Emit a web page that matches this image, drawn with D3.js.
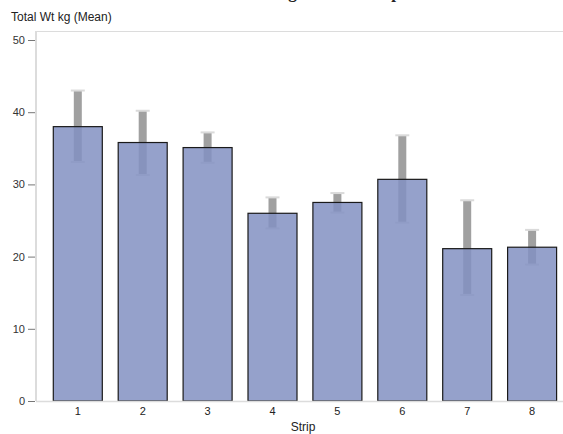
<!DOCTYPE html>
<html>
<head>
<meta charset="utf-8">
<script src="https://cdn.jsdelivr.net/npm/d3@7"></script>
<style>
  html, body { margin: 0; padding: 0; background: #fff; }
  svg { display: block; font-family: "Liberation Sans", Arial, sans-serif; }
</style>
</head>
<body>
<svg id="chart" width="563" height="434"></svg>
<script>
// Mean total weight per strip, with error extents
const strips = ["1", "2", "3", "4", "5", "6", "7", "8"];
const meanWt = [38.0, 35.8, 35.1, 26.0, 27.5, 30.7, 21.1, 21.3];
const errLow = [33.1, 31.3, 33.0, 23.9, 26.1, 24.7, 14.7, 18.9];
const errHigh = [43.0, 40.2, 37.2, 28.2, 28.8, 36.8, 27.8, 23.7];
const yTicks = [0, 10, 20, 30, 40, 50];

const svg = d3.select("#chart");
const plot = { left: 36, right: 563, top: 31, bottom: 401 };

const x = d3.scaleBand()
  .domain(strips)
  .range([45.35, 564.55])
  .paddingInner(0.245)
  .paddingOuter(0.1225);

const y = d3.scaleLinear()
  .domain([0, 50])
  .range([plot.bottom, 40]);

// Title (sits mostly above the top edge)
svg.append("text")
  .attr("x", 283)
  .attr("y", -2)
  .attr("text-anchor", "middle")
  .attr("font-family", "Liberation Serif, Times New Roman, serif")
  .attr("font-weight", "bold")
  .attr("font-size", 17)
  .attr("fill", "#222")
  .text("Mean Total Wt kg for each Strip");

// Top frame line
svg.append("line")
  .attr("x1", plot.left).attr("x2", plot.right)
  .attr("y1", plot.top + 0.5).attr("y2", plot.top + 0.5)
  .attr("stroke", "#dcdcdc").attr("stroke-width", 1);

// Error bars (drawn beneath the translucent bars)
const data = strips.map((s, i) => ({ s, mean: meanWt[i], lo: errLow[i], hi: errHigh[i] }));

const err = svg.append("g").attr("class", "errors");
err.selectAll("rect.stem")
  .data(data).join("rect")
  .attr("class", "stem")
  .attr("x", d => x(d.s) + x.bandwidth() / 2 - 4)
  .attr("width", 8)
  .attr("y", d => y(d.hi))
  .attr("height", d => y(d.lo) - y(d.hi))
  .attr("fill", "#a0a0a0");
["hi", "lo"].forEach(k => {
  err.selectAll("rect.cap-" + k)
    .data(data).join("rect")
    .attr("class", "cap-" + k)
    .attr("x", d => x(d.s) + x.bandwidth() / 2 - 7)
    .attr("width", 14)
    .attr("y", d => y(d[k]) - 1)
    .attr("height", 2)
    .attr("fill", "#dadada");
});

// Bars
svg.append("g").attr("class", "bars")
  .selectAll("rect")
  .data(data).join("rect")
  .attr("x", d => x(d.s))
  .attr("width", x.bandwidth())
  .attr("y", d => y(d.mean))
  .attr("height", d => y(0) - y(d.mean))
  .attr("fill", "rgb(130,144,194)")
  .attr("fill-opacity", 0.85)
  .attr("stroke", "#1a1a1a")
  .attr("stroke-width", 1.2);

// Y axis
const yAxis = svg.append("g")
  .attr("transform", `translate(${plot.left},0)`)
  .call(d3.axisLeft(y).tickValues(yTicks).tickSize(8).tickPadding(3).tickFormat(d3.format("d")));
yAxis.select(".domain")
  .attr("d", `M0,${plot.top}V${plot.bottom}`)
  .attr("stroke", "#dcdcdc").attr("stroke-width", 2);
yAxis.selectAll(".tick line").attr("stroke", "#777").attr("x1", -1);
yAxis.selectAll(".tick text").attr("fill", "#333").attr("font-size", 11).attr("font-family", "Liberation Sans, Arial, sans-serif");

// X axis
const xAxis = svg.append("g")
  .attr("transform", `translate(0,${plot.bottom})`)
  .call(d3.axisBottom(x).tickSize(0).tickPadding(6));
xAxis.select(".domain")
  .attr("d", `M${plot.left},0.5H${plot.right}`)
  .attr("stroke", "#dcdcdc").attr("stroke-width", 1.5);
xAxis.selectAll(".tick text").attr("fill", "#222").attr("font-size", 11).attr("font-family", "Liberation Sans, Arial, sans-serif");

// Axis titles
svg.append("text")
  .attr("x", 11).attr("y", 21)
  .attr("font-size", 12).attr("fill", "#222")
  .text("Total Wt kg (Mean)");
svg.append("text")
  .attr("x", 303).attr("y", 431)
  .attr("text-anchor", "middle")
  .attr("font-size", 12).attr("fill", "#222")
  .text("Strip");
</script>
</body>
</html>
